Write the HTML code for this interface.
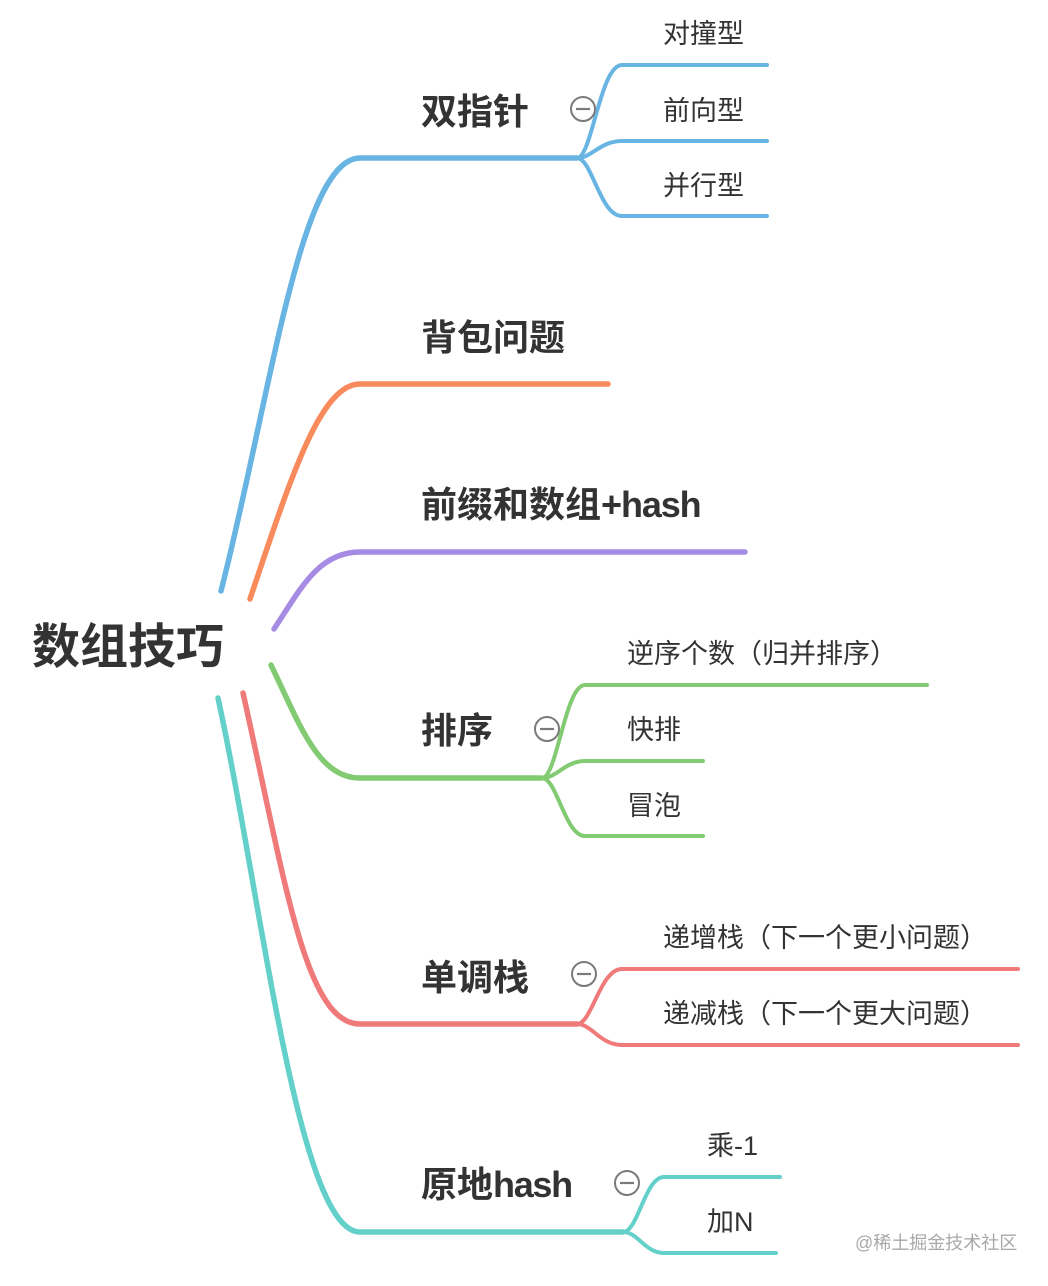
<!DOCTYPE html>
<html><head><meta charset="utf-8"><style>
html,body{margin:0;padding:0;background:#fff;}
svg{display:block;}
text{font-family:"Liberation Sans","Noto Sans CJK SC",sans-serif;fill:#333;}
.b{font-size:36px;font-weight:bold;}
.s{font-size:27px;}
</style></head><body>
<svg width="1048" height="1286" viewBox="0 0 1048 1286" xmlns="http://www.w3.org/2000/svg">
<g fill="none" stroke-linecap="round" stroke-linejoin="round">
<!-- blue -->
<g stroke="#68b4e3">
<path stroke-width="5.5" d="M221,591 C270,400 300,158 360,158 L577,158"/>
<path stroke-width="4" d="M577,158 C592,158 600,65 622,65 L767,65"/>
<path stroke-width="4" d="M577,158 C592,158 600,141 622,141 L767,141"/>
<path stroke-width="4" d="M577,158 C592,158 600,216 622,216 L767,216"/>
</g>
<!-- orange -->
<path stroke="#f88a5b" stroke-width="5.5" d="M250,599 C290,480 320,384 360,384 L608,384"/>
<!-- purple -->
<path stroke="#a68be5" stroke-width="5.5" d="M274,629 C300,590 318,552 360,552 L745,552"/>
<!-- green -->
<g stroke="#82cb72">
<path stroke-width="5.5" d="M271,665 C300,725 318,778 360,778 L542,778"/>
<path stroke-width="4" d="M542,778 C557,778 565,685 585,685 L927,685"/>
<path stroke-width="4" d="M542,778 C557,778 565,761 585,761 L703,761"/>
<path stroke-width="4" d="M542,778 C557,778 565,836 585,836 L703,836"/>
</g>
<!-- red -->
<g stroke="#f07a7a">
<path stroke-width="5.5" d="M243,693 C285,880 305,1024 360,1024 L577,1024"/>
<path stroke-width="4" d="M577,1024 C592,1024 600,969 622,969 L1018,969"/>
<path stroke-width="4" d="M577,1024 C592,1024 600,1045 622,1045 L1018,1045"/>
</g>
<!-- teal -->
<g stroke="#64d0ca">
<path stroke-width="5.5" d="M218,698 C262,900 298,1232 360,1232 L623,1232"/>
<path stroke-width="4" d="M623,1232 C638,1232 645,1177 664,1177 L780,1177"/>
<path stroke-width="4" d="M623,1232 C638,1232 645,1253 664,1253 L776,1253"/>
</g>
</g>
<!-- collapse circles -->
<g fill="#fff" stroke="#7a7a7a" stroke-width="2">
<circle cx="583" cy="109" r="12"/>
<circle cx="547" cy="729" r="12"/>
<circle cx="584" cy="974" r="12"/>
<circle cx="627" cy="1183" r="12"/>
</g>
<g stroke="#7a7a7a" stroke-width="2.2">
<line x1="576" y1="109" x2="590" y2="109"/>
<line x1="540" y1="729" x2="554" y2="729"/>
<line x1="577" y1="974" x2="591" y2="974"/>
<line x1="620" y1="1183" x2="634" y2="1183"/>
</g>
<!-- root -->
<text x="32" y="663" style="font-size:48px;font-weight:bold;">数组技巧</text>
<!-- main labels -->
<text class="b" x="421" y="124">双指针</text>
<text class="b" x="421" y="350">背包问题</text>
<text class="b" x="421" y="517">前缀和数组<tspan style="letter-spacing:-1.1px">+hash</tspan></text>
<text class="b" x="421" y="743">排序</text>
<text class="b" x="421" y="990">单调栈</text>
<text class="b" x="421" y="1197">原地<tspan style="letter-spacing:-1.3px">hash</tspan></text>
<!-- sub labels -->
<text class="s" x="663" y="43">对撞型</text>
<text class="s" x="663" y="120">前向型</text>
<text class="s" x="663" y="195">并行型</text>
<text class="s" x="627" y="663">逆序个数（归并排序）</text>
<text class="s" x="627" y="739">快排</text>
<text class="s" x="627" y="815">冒泡</text>
<text class="s" x="663" y="947">递增栈（下一个更小问题）</text>
<text class="s" x="663" y="1023">递减栈（下一个更大问题）</text>
<text class="s" x="707" y="1155">乘-1</text>
<text class="s" x="707" y="1231">加N</text>
<!-- watermark -->
<text x="855" y="1249" style="font-size:18px;fill:#a8a8a8;">@稀土掘金技术社区</text>
</svg>
</body></html>
